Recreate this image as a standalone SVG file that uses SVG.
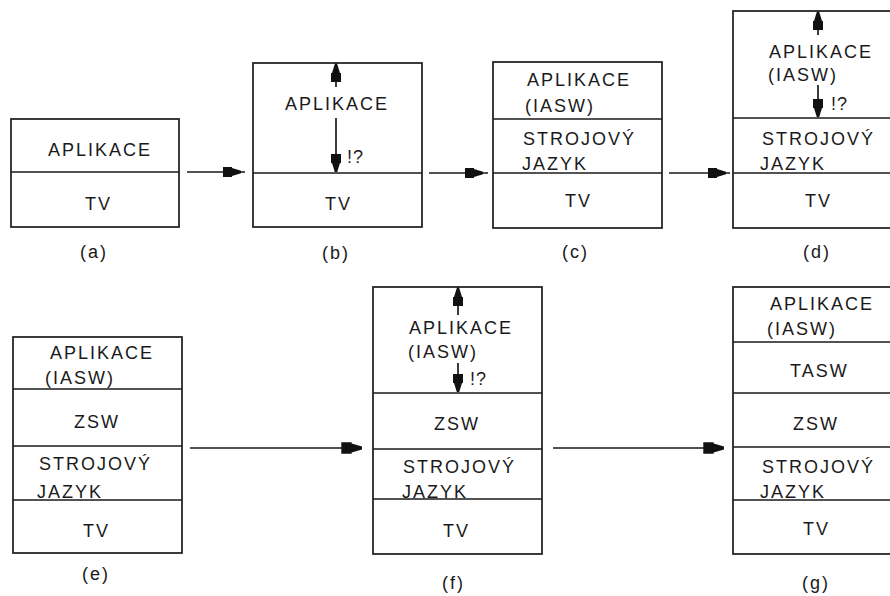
<svg xmlns="http://www.w3.org/2000/svg" xmlns:xlink="http://www.w3.org/1999/xlink" width="890" height="596" viewBox="0 0 890 596">
<style>
.b{fill:none;stroke:#1a1a1a;stroke-width:1.7}
.l{stroke:#1a1a1a;stroke-width:1.7;fill:none}
.t{font-family:"Liberation Sans",Arial,sans-serif;font-size:18px;letter-spacing:2px;fill:#1a1a1a}
.q{font-family:"Liberation Sans",Arial,sans-serif;font-size:18px;letter-spacing:1px;fill:#1a1a1a}
.ah{fill:#111}
</style>
<defs>
<path id="ah" d="M0,-1.2 L-9,-4 L-9,-5 L-18,-5 L-18,5 L-9,5 L-9,4 L0,1.2 Z"/>
</defs>
<rect width="890" height="596" fill="#fff"/>

<g id="node-a">
<rect class="b" x="11" y="119" width="168" height="108"/>
<line class="l" x1="11" y1="172" x2="179" y2="172"/>
<text class="t" x="48" y="156">APLIKACE</text>
<text class="t" x="85" y="210">TV</text>
<text class="t" x="80" y="258">(a)</text>
</g>

<g id="node-b">
<rect class="b" x="253" y="63" width="169" height="164"/>
<line class="l" x1="253" y1="173" x2="422" y2="173"/>
<text class="t" x="285" y="110">APLIKACE</text>
<text class="q" x="347" y="163">!?</text>
<text class="t" x="325" y="210">TV</text>
<text class="t" x="322" y="259">(b)</text>
</g>

<g id="node-c">
<rect class="b" x="493" y="62" width="169" height="166"/>
<line class="l" x1="493" y1="119" x2="662" y2="119"/>
<line class="l" x1="493" y1="173" x2="662" y2="173"/>
<text class="t" x="527" y="86">APLIKACE</text>
<text class="t" x="525" y="112">(IASW)</text>
<text class="t" x="523" y="145">STROJOVÝ</text>
<text class="t" x="522" y="170">JAZYK</text>
<text class="t" x="565" y="207">TV</text>
<text class="t" x="562" y="258">(c)</text>
</g>

<g id="node-d">
<rect class="b" x="733" y="11" width="169" height="217"/>
<line class="l" x1="733" y1="118" x2="902" y2="118"/>
<line class="l" x1="733" y1="173" x2="902" y2="173"/>
<text class="t" x="769" y="58">APLIKACE</text>
<text class="t" x="768" y="81">(IASW)</text>
<text class="q" x="831" y="110">!?</text>
<text class="t" x="762" y="145">STROJOVÝ</text>
<text class="t" x="760" y="170">JAZYK</text>
<text class="t" x="805" y="207">TV</text>
<text class="t" x="803" y="258">(d)</text>
</g>

<g id="node-e">
<rect class="b" x="13" y="337" width="169" height="216"/>
<line class="l" x1="13" y1="389" x2="182" y2="389"/>
<line class="l" x1="13" y1="446" x2="182" y2="446"/>
<line class="l" x1="13" y1="500" x2="182" y2="500"/>
<text class="t" x="50" y="359">APLIKACE</text>
<text class="t" x="45" y="384">(IASW)</text>
<text class="t" x="74" y="428">ZSW</text>
<text class="t" x="39" y="470">STROJOVÝ</text>
<text class="t" x="37" y="498">JAZYK</text>
<text class="t" x="83" y="537">TV</text>
<text class="t" x="82" y="580">(e)</text>
</g>

<g id="node-f">
<rect class="b" x="373" y="287" width="169" height="267"/>
<line class="l" x1="373" y1="393" x2="542" y2="393"/>
<line class="l" x1="373" y1="449" x2="542" y2="449"/>
<line class="l" x1="373" y1="499" x2="542" y2="499"/>
<text class="t" x="409" y="334">APLIKACE</text>
<text class="t" x="408" y="358">(IASW)</text>
<text class="q" x="470" y="385">!?</text>
<text class="t" x="434" y="430">ZSW</text>
<text class="t" x="403" y="473">STROJOVÝ</text>
<text class="t" x="402" y="498">JAZYK</text>
<text class="t" x="443" y="537">TV</text>
<text class="t" x="442" y="589">(f)</text>
</g>

<g id="node-g">
<rect class="b" x="733" y="287" width="169" height="267"/>
<line class="l" x1="733" y1="342" x2="902" y2="342"/>
<line class="l" x1="733" y1="393" x2="902" y2="393"/>
<line class="l" x1="733" y1="447" x2="902" y2="447"/>
<line class="l" x1="733" y1="500" x2="902" y2="500"/>
<text class="t" x="770" y="310">APLIKACE</text>
<text class="t" x="767" y="335">(IASW)</text>
<text class="t" x="790" y="377">TASW</text>
<text class="t" x="793" y="430">ZSW</text>
<text class="t" x="762" y="473">STROJOVÝ</text>
<text class="t" x="760" y="498">JAZYK</text>
<text class="t" x="803" y="535">TV</text>
<text class="t" x="802" y="589">(g)</text>
</g>

<g id="connectors">
<line class="l" x1="187" y1="172" x2="245" y2="172"/>
<use xlink:href="#ah" class="ah" transform="translate(241,172)"/>
<line class="l" x1="429" y1="173" x2="488" y2="173"/>
<use xlink:href="#ah" class="ah" transform="translate(483,173)"/>
<line class="l" x1="669" y1="173" x2="730" y2="173"/>
<use xlink:href="#ah" class="ah" transform="translate(726,173)"/>
<line class="l" x1="190" y1="448" x2="362" y2="448"/>
<use xlink:href="#ah" class="ah" transform="translate(362,448) scale(1.15)"/>
<line class="l" x1="553" y1="448" x2="724" y2="448"/>
<use xlink:href="#ah" class="ah" transform="translate(724,448) scale(1.15)"/>

<line class="l" x1="336" y1="63" x2="336" y2="87"/>
<use xlink:href="#ah" class="ah" transform="translate(336,64) rotate(-90)"/>
<line class="l" x1="336" y1="118" x2="336" y2="172"/>
<use xlink:href="#ah" class="ah" transform="translate(336,172) rotate(90)"/>

<line class="l" x1="818" y1="11" x2="818" y2="35"/>
<use xlink:href="#ah" class="ah" transform="translate(818,12) rotate(-90)"/>
<line class="l" x1="818" y1="85" x2="818" y2="117"/>
<use xlink:href="#ah" class="ah" transform="translate(818,117) rotate(90)"/>

<line class="l" x1="458" y1="287" x2="458" y2="315"/>
<use xlink:href="#ah" class="ah" transform="translate(458,288) rotate(-90)"/>
<line class="l" x1="458" y1="363" x2="458" y2="392"/>
<use xlink:href="#ah" class="ah" transform="translate(458,392) rotate(90)"/>
</g>
</svg>
